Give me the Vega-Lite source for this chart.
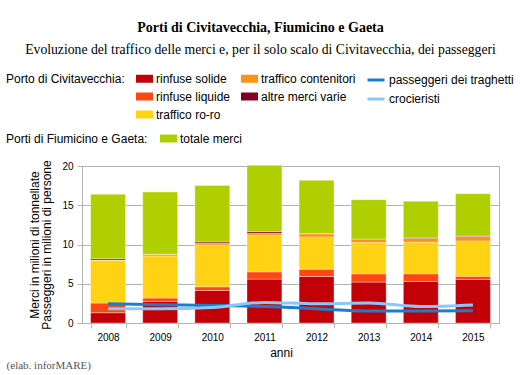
{
  "$schema": "https://vega.github.io/schema/vega-lite/v6.json",
  "width": 417,
  "height": 157,
  "autosize": {"type": "none"},
  "padding": {"left": 82, "top": 166, "right": 22, "bottom": 52},
  "background": "white",
  "config": {
    "font": "Liberation Sans",
    "view": {"stroke": "#b3b3b3"},
    "axisY": {"tickCount": 5}
  },
  "title": {
    "text": "Porti di Civitavecchia, Fiumicino e Gaeta",
    "subtitle": "Evoluzione del traffico delle merci e, per il solo scalo di Civitavecchia, dei passeggeri",
    "font": "Liberation Serif",
    "fontSize": 14,
    "fontWeight": "bold",
    "color": "black",
    "subtitleFont": "Liberation Serif",
    "subtitleFontSize": 13.7,
    "subtitleColor": "black",
    "subtitlePadding": 8,
    "offset": 13,
    "anchor": "middle",
    "frame": "group",
    "dx": -30
  },
  "datasets": {
    "merci": [
      {"anno": "2008", "serie": "rinfuse solide", "valore": 1.31},
      {"anno": "2008", "serie": "rinfuse liquide", "valore": 1.23},
      {"anno": "2008", "serie": "traffico ro-ro", "valore": 5.46},
      {"anno": "2008", "serie": "traffico contenitori", "valore": 0.03},
      {"anno": "2008", "serie": "altre merci varie", "valore": 0.17},
      {"anno": "2008", "serie": "totale merci", "valore": 8.2},
      {"anno": "2009", "serie": "rinfuse solide", "valore": 2.75},
      {"anno": "2009", "serie": "rinfuse liquide", "valore": 0.43},
      {"anno": "2009", "serie": "traffico ro-ro", "valore": 5.37},
      {"anno": "2009", "serie": "traffico contenitori", "valore": 0.2},
      {"anno": "2009", "serie": "altre merci varie", "valore": 0.02},
      {"anno": "2009", "serie": "totale merci", "valore": 7.91},
      {"anno": "2010", "serie": "rinfuse solide", "valore": 4.14},
      {"anno": "2010", "serie": "rinfuse liquide", "valore": 0.47},
      {"anno": "2010", "serie": "traffico ro-ro", "valore": 5.34},
      {"anno": "2010", "serie": "traffico contenitori", "valore": 0.22},
      {"anno": "2010", "serie": "altre merci varie", "valore": 0.16},
      {"anno": "2010", "serie": "totale merci", "valore": 7.2},
      {"anno": "2011", "serie": "rinfuse solide", "valore": 5.59},
      {"anno": "2011", "serie": "rinfuse liquide", "valore": 0.93},
      {"anno": "2011", "serie": "traffico ro-ro", "valore": 4.66},
      {"anno": "2011", "serie": "traffico contenitori", "valore": 0.25},
      {"anno": "2011", "serie": "altre merci varie", "valore": 0.21},
      {"anno": "2011", "serie": "totale merci", "valore": 8.44},
      {"anno": "2012", "serie": "rinfuse solide", "valore": 5.92},
      {"anno": "2012", "serie": "rinfuse liquide", "valore": 0.94},
      {"anno": "2012", "serie": "traffico ro-ro", "valore": 4.11},
      {"anno": "2012", "serie": "traffico contenitori", "valore": 0.4},
      {"anno": "2012", "serie": "altre merci varie", "valore": 0.02},
      {"anno": "2012", "serie": "totale merci", "valore": 6.78},
      {"anno": "2013", "serie": "rinfuse solide", "valore": 5.21},
      {"anno": "2013", "serie": "rinfuse liquide", "valore": 1.06},
      {"anno": "2013", "serie": "traffico ro-ro", "valore": 3.97},
      {"anno": "2013", "serie": "traffico contenitori", "valore": 0.4},
      {"anno": "2013", "serie": "altre merci varie", "valore": 0.07},
      {"anno": "2013", "serie": "totale merci", "valore": 5.0},
      {"anno": "2014", "serie": "rinfuse solide", "valore": 5.29},
      {"anno": "2014", "serie": "rinfuse liquide", "valore": 0.98},
      {"anno": "2014", "serie": "traffico ro-ro", "valore": 4.02},
      {"anno": "2014", "serie": "traffico contenitori", "valore": 0.48},
      {"anno": "2014", "serie": "altre merci varie", "valore": 0.07},
      {"anno": "2014", "serie": "totale merci", "valore": 4.66},
      {"anno": "2015", "serie": "rinfuse solide", "valore": 5.54},
      {"anno": "2015", "serie": "rinfuse liquide", "valore": 0.43},
      {"anno": "2015", "serie": "traffico ro-ro", "valore": 4.49},
      {"anno": "2015", "serie": "traffico contenitori", "valore": 0.55},
      {"anno": "2015", "serie": "altre merci varie", "valore": 0.08},
      {"anno": "2015", "serie": "totale merci", "valore": 5.38}
    ],
    "passeggeri": [
      {"anno": "2008", "serie": "passeggeri dei traghetti", "valore": 2.45},
      {"anno": "2009", "serie": "passeggeri dei traghetti", "valore": 2.33},
      {"anno": "2010", "serie": "passeggeri dei traghetti", "valore": 2.24},
      {"anno": "2011", "serie": "passeggeri dei traghetti", "valore": 2.1},
      {"anno": "2012", "serie": "passeggeri dei traghetti", "valore": 1.82},
      {"anno": "2013", "serie": "passeggeri dei traghetti", "valore": 1.52},
      {"anno": "2014", "serie": "passeggeri dei traghetti", "valore": 1.52},
      {"anno": "2015", "serie": "passeggeri dei traghetti", "valore": 1.56},
      {"anno": "2008", "serie": "crocieristi", "valore": 1.82},
      {"anno": "2009", "serie": "crocieristi", "valore": 1.82},
      {"anno": "2010", "serie": "crocieristi", "valore": 1.98},
      {"anno": "2011", "serie": "crocieristi", "valore": 2.62},
      {"anno": "2012", "serie": "crocieristi", "valore": 2.45},
      {"anno": "2013", "serie": "crocieristi", "valore": 2.54},
      {"anno": "2014", "serie": "crocieristi", "valore": 2.1},
      {"anno": "2015", "serie": "crocieristi", "valore": 2.3}
    ],
    "nota": [{"testo": "(elab. inforMARE)"}]
  },
  "layer": [
    {
      "data": {"name": "merci"},
      "transform": [
        {"filter": "datum.serie != 'totale merci'"},
        {"calculate": "indexof(['rinfuse solide','rinfuse liquide','traffico ro-ro','traffico contenitori','altre merci varie'], datum.serie)", "as": "ordine"}
      ],
      "mark": {"type": "bar", "stroke": "white", "strokeOpacity": 0.35, "strokeWidth": 1},
      "encoding": {
        "x": {
          "field": "anno", "type": "ordinal",
          "scale": {"paddingInner": 0.33, "paddingOuter": 0.165},
          "axis": {
            "title": "anni", "labelAngle": 0, "tickBand": "extent", "grid": false,
            "domainColor": "#b3b3b3", "tickColor": "#b3b3b3", "tickSize": 5,
            "labelColor": "black", "labelFontSize": 10, "labelPadding": 4,
            "titleFontSize": 12, "titleFontWeight": "normal", "titleColor": "black", "titlePadding": 5,
            "titleX": 199
          }
        },
        "y": {
          "field": "valore", "type": "quantitative", "stack": "zero",
          "scale": {"domain": [0, 20], "nice": false},
          "axis": {
            "title": ["Merci in milioni di tonnellate", "Passeggeri in milioni di persone"],
            "values": [0, 5, 10, 15, 20], "tickCount": 5, "labelOverlap": false,
            "grid": true, "gridColor": "#b3b3b3",
            "domainColor": "#b3b3b3", "tickColor": "#b3b3b3", "tickSize": 5,
            "labelColor": "black", "labelFontSize": 10, "labelPadding": 4,
            "titleFontSize": 12, "titleFontWeight": "normal", "titleColor": "black",
            "titlePadding": 8, "titleLineHeight": 12
          }
        },
        "color": {
          "field": "serie", "type": "nominal",
          "scale": {
            "domain": ["rinfuse solide", "rinfuse liquide", "traffico ro-ro", "traffico contenitori", "altre merci varie"],
            "range": ["#C20008", "#FF4613", "#FFD214", "#FF9214", "#820024"]
          },
          "legend": {
            "orient": "none", "legendX": -76, "legendY": -96,
            "title": "Porto di Civitavecchia:", "titleOrient": "left", "titleAnchor": "start",
            "titleBaseline": "line-top", "titleLineHeight": 20,
            "titleFontSize": 12, "titleFontWeight": "normal", "titleColor": "black", "titlePadding": 11,
            "columns": 2, "columnPadding": 10, "rowPadding": 3,
            "symbolType": "M-1,-0.47H1V0.47H-1Z", "symbolSize": 289, "symbolStrokeWidth": 0,
            "labelFontSize": 12, "labelColor": "black", "labelOffset": 3
          }
        },
        "order": {"field": "ordine", "type": "quantitative", "sort": "ascending"}
      }
    },
    {
      "data": {"name": "merci"},
      "transform": [
        {"calculate": "datum.serie == 'totale merci' ? 0 : datum.valore", "as": "civ"},
        {"joinaggregate": [{"op": "sum", "field": "civ", "as": "base"}], "groupby": ["anno"]},
        {"filter": "datum.serie == 'totale merci'"},
        {"calculate": "datum.base + datum.valore", "as": "cima"}
      ],
      "mark": {"type": "bar", "stroke": "white", "strokeOpacity": 0.35, "strokeWidth": 1},
      "encoding": {
        "x": {"field": "anno", "type": "ordinal"},
        "y": {"field": "base", "type": "quantitative"},
        "y2": {"field": "cima"},
        "fill": {
          "field": "serie", "type": "nominal",
          "scale": {"domain": ["totale merci"], "range": ["#AFCF00"]},
          "legend": {
            "orient": "none", "legendX": -76, "legendY": -36,
            "title": "Porti di Fiumicino e Gaeta:", "titleOrient": "left", "titleAnchor": "start",
            "titleBaseline": "line-top", "titleLineHeight": 20,
            "titleFontSize": 12, "titleFontWeight": "normal", "titleColor": "black", "titlePadding": 12,
            "symbolType": "M-1,-0.47H1V0.47H-1Z", "symbolSize": 289, "symbolStrokeWidth": 0,
            "labelFontSize": 12, "labelColor": "black", "labelOffset": 3
          }
        }
      }
    },
    {
      "data": {"name": "passeggeri"},
      "mark": {"type": "line", "interpolate": "monotone", "strokeWidth": 3},
      "encoding": {
        "x": {"field": "anno", "type": "ordinal"},
        "y": {"field": "valore", "type": "quantitative"},
        "stroke": {
          "field": "serie", "type": "nominal",
          "scale": {"domain": ["passeggeri dei traghetti", "crocieristi"], "range": ["#1C7DCB", "#88C8FA"]},
          "legend": {
            "orient": "none", "legendX": 284, "legendY": -96,
            "title": null, "rowPadding": 3,
            "symbolType": "stroke", "symbolSize": 289, "symbolStrokeWidth": 3,
            "labelFontSize": 12, "labelColor": "black", "labelOffset": 3
          }
        }
      }
    },
    {
      "data": {"name": "nota"},
      "mark": {"type": "text", "align": "left", "baseline": "middle", "font": "Liberation Serif", "fontSize": 11, "color": "#555555", "dx": -84, "dy": 43},
      "encoding": {
        "x": {"datum": "2008", "type": "ordinal", "bandPosition": 0},
        "y": {"datum": 0, "type": "quantitative"},
        "text": {"field": "testo"}
      }
    }
  ]
}
